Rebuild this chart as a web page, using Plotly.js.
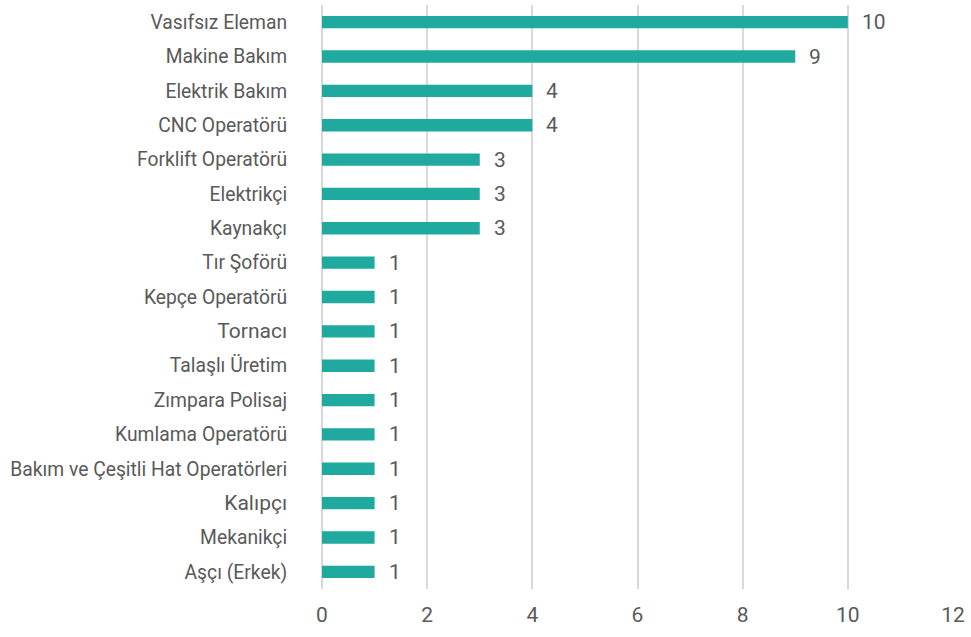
<!DOCTYPE html>
<html>
<head>
<meta charset="utf-8">
<script src="https://cdn.plot.ly/plotly-3.0.1.min.js"></script>
<style>html,body{margin:0;padding:0;background:#fff}#chart{width:971px;height:637px}</style>
</head>
<body>
<div id="chart"></div>
<script>
const categories = ["Vasıfsız Eleman","Makine Bakım","Elektrik Bakım","CNC Operatörü","Forklift Operatörü","Elektrikçi","Kaynakçı","Tır Şoförü","Kepçe Operatörü","Tornacı","Talaşlı Üretim","Zımpara Polisaj","Kumlama Operatörü","Bakım ve Çeşitli Hat Operatörleri","Kalıpçı","Mekanikçi","Aşçı (Erkek)"];
const values = [10,9,4,4,3,3,3,1,1,1,1,1,1,1,1,1,1];
const xTicks = [0,2,4,6,8,10,12];
const largerLabels = ["Tornacı","Kalıpçı"];

const font = "Roboto, 'Open Sans', sans-serif";
const gray = "#595959";

const annotations = categories.map((c, i) => ({
  x: values[i], y: c, xref: "x", yref: "y",
  text: String(values[i]), showarrow: false,
  xanchor: "left", yanchor: "middle", xshift: 12,
  font: {family: font, size: 21, color: gray}
}));

const yTickText = categories.map(c =>
  largerLabels.includes(c) ? '<span style="font-size:21px">' + c + '</span>' : c);

Plotly.newPlot("chart", [{
  type: "bar",
  orientation: "h",
  y: categories,
  x: values,
  marker: {color: "#1fa99f"},
  hoverinfo: "none"
}], {
  width: 971, height: 637,
  margin: {l: 322, r: 18, t: 5, b: 48},
  paper_bgcolor: "#fff", plot_bgcolor: "#fff",
  bargap: 0.64,
  showlegend: false,
  annotations: annotations,
  xaxis: {
    range: [0, 12], tickvals: xTicks, ticktext: xTicks.map(String),
    showgrid: true, gridcolor: "#d9d9d9", gridwidth: 2,
    zeroline: true, zerolinecolor: "#d9d9d9", zerolinewidth: 2,
    showline: false, ticks: "outside", ticklen: 7, tickcolor: "rgba(0,0,0,0)",
    tickfont: {family: font, size: 21, color: gray}
  },
  yaxis: {
    autorange: "reversed", showgrid: false, zeroline: false, showline: false,
    tickvals: categories, ticktext: yTickText,
    ticks: "outside", ticklen: 30, tickcolor: "rgba(0,0,0,0)",
    tickfont: {family: font, size: 19.3, color: gray}
  }
}, {displayModeBar: false, staticPlot: true});
</script>
</body>
</html>
